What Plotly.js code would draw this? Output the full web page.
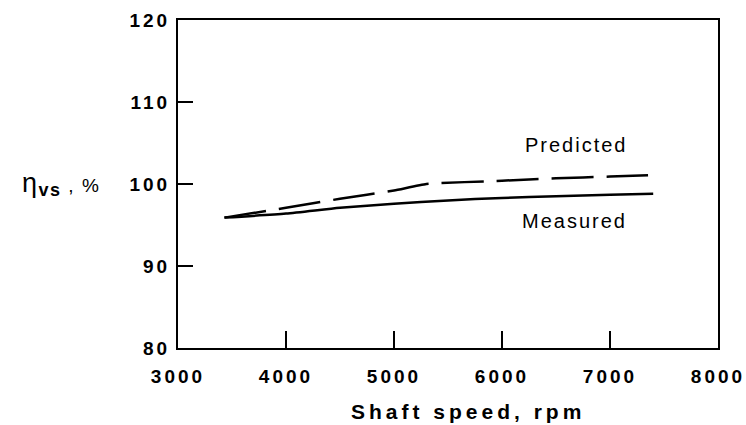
<!DOCTYPE html>
<html>
<head>
<meta charset="utf-8">
<script src="https://cdn.plot.ly/plotly-3.0.1.min.js"></script>
<style>
  body { margin: 0; background: #fff; }
  #chart { width: 746px; height: 425px; }
  .xtick text, .ytick text { letter-spacing: 3px; }
  .annotation-text { letter-spacing: 2px; }
</style>
</head>
<body>
<div id="chart"></div>
<script>
// Shaft speed, rpm
const measuredSpeed = [3430, 4000, 4500, 5000, 5500, 6000, 6500, 7000, 7400];
const measuredEff   = [95.9, 96.4, 97.1, 97.6, 98.0, 98.3, 98.5, 98.7, 98.8];
const predictedSpeed = [3430, 4000, 4500, 5000, 5300, 6000, 6500, 7000, 7400];
const predictedEff   = [95.9, 97.1, 98.2, 99.2, 100.0, 100.4, 100.7, 100.9, 101.1];
const xTicks = [3000, 4000, 5000, 6000, 7000, 8000];
const yTicks = [80, 90, 100, 110, 120];

const FONT = '"Liberation Sans", Arial, Helvetica, sans-serif';

const traces = [
  { x: measuredSpeed, y: measuredEff, mode: 'lines', name: 'Measured',
    line: { color: '#000', width: 2.5, shape: 'spline', smoothing: 0.6 } },
  { x: predictedSpeed, y: predictedEff, mode: 'lines', name: 'Predicted',
    line: { color: '#000', width: 2.5, dash: '42px,13px', shape: 'spline', smoothing: 0.4 } }
];

const layout = {
  width: 746, height: 425,
  margin: { l: 178, r: 28, t: 20, b: 77 },
  paper_bgcolor: '#fff', plot_bgcolor: '#fff',
  showlegend: false,
  font: { family: FONT, color: '#000' },
  xaxis: {
    range: [3000, 8000], tickvals: xTicks, ticktext: xTicks.map(String),
    ticks: 'inside', ticklen: 17, tickwidth: 1.5, tickcolor: '#000',
    showline: true, linewidth: 2, linecolor: '#000', mirror: true,
    showgrid: false, zeroline: false,
    tickfont: { family: FONT, size: 19, weight: 'bold', color: '#000' },
    ticklabelstandoff: 10
  },
  yaxis: {
    range: [80, 120], tickvals: yTicks, ticktext: yTicks.map(String),
    ticks: 'inside', ticklen: 15, tickwidth: 1.5, tickcolor: '#000',
    showline: true, linewidth: 2, linecolor: '#000', mirror: true,
    showgrid: false, zeroline: false,
    tickfont: { family: FONT, size: 19, weight: 'bold', color: '#000' },
    ticklabelstandoff: 2
  },
  annotations: [
    { x: 6690, y: 104.8, xref: 'x', yref: 'y', text: 'Predicted', showarrow: false,
      font: { family: FONT, size: 20, color: '#000' } },
    { x: 6670, y: 95.5, xref: 'x', yref: 'y', text: 'Measured', showarrow: false,
      font: { family: FONT, size: 20, color: '#000' } },
    { x: 0.537, y: -0.195, xref: 'paper', yref: 'paper', xanchor: 'center', yanchor: 'middle',
      text: '<span style="letter-spacing:4px"><b>Shaft speed, rpm</b></span>', showarrow: false,
      font: { family: FONT, size: 21, color: '#000' } },
    { x: 22, y: 100, xref: 'paper', yref: 'y', xanchor: 'left',
      text: '<span style="letter-spacing:1.5px"><span style="font-size:27px">η</span><sub><span style="font-size:18px"><b>vs</b></span></sub> , %</span>', showarrow: false,
      font: { family: FONT, size: 19, color: '#000' } }
  ]
};
// place y-title annotation by pixel from left edge
layout.annotations[3].x = (20 - layout.margin.l) / (746 - layout.margin.l - layout.margin.r);

Plotly.newPlot('chart', traces, layout, { displayModeBar: false, staticPlot: true });
</script>
</body>
</html>
